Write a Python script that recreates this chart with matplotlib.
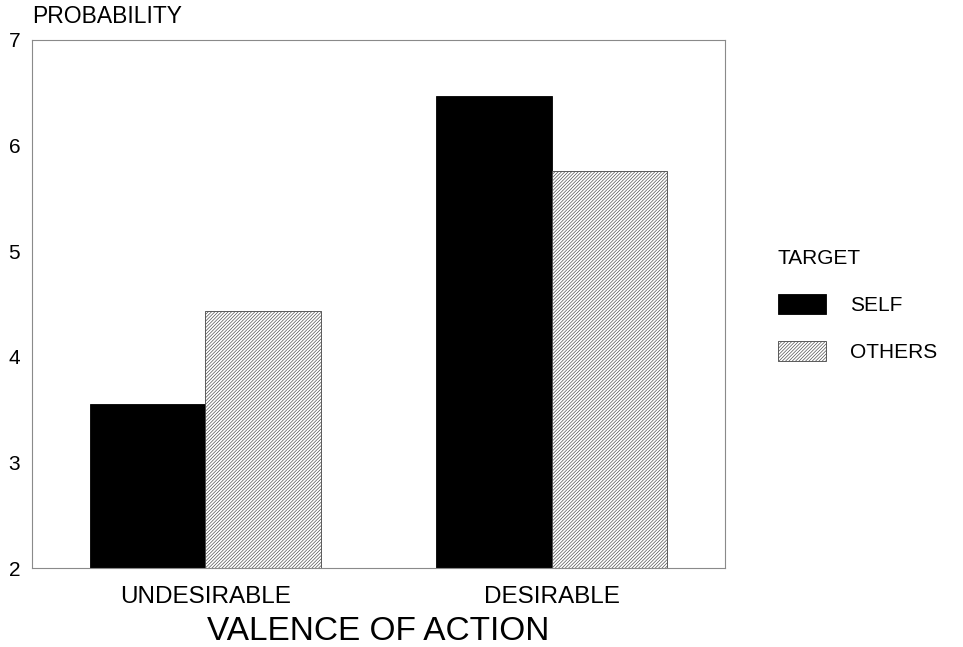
import matplotlib
matplotlib.use("Agg")
import matplotlib.pyplot as plt
import numpy as np

plt.rcParams['font.family'] = ['Liberation Sans', 'DejaVu Sans']
plt.rcParams['hatch.linewidth'] = 0.45
plt.rcParams['hatch.color'] = '#666666'

categories = ["UNDESIRABLE", "DESIRABLE"]
series_names = ["SELF", "OTHERS"]
self_vals = [3.55, 6.47]
others_vals = [4.43, 5.76]
yticks = [2, 3, 4, 5, 6, 7]

fig = plt.figure(figsize=(9.63, 6.47), dpi=100)
ax = fig.add_axes([0.0332, 0.1221, 0.7197, 0.8161])

x = np.arange(len(categories))
w = 1 / 3
ax.bar(x - w / 2, self_vals, width=w, bottom=0, color='black', edgecolor='black',
       linewidth=0.6, label=series_names[0])
ax.bar(x + w / 2, others_vals, width=w, bottom=0, color='white', edgecolor='#444444',
       hatch='//////////', linewidth=0.6, label=series_names[1])

ax.set_ylim(2, 7)
ax.set_xlim(-0.5, 1.5)
ax.set_yticks(yticks)
ax.set_yticklabels([str(t) for t in yticks], fontsize=15)
ax.set_xticks(x)
ax.set_xticklabels(categories, fontsize=17.5)
ax.tick_params(axis='both', length=0)
ax.tick_params(axis='y', pad=8.5)
ax.tick_params(axis='x', pad=13)
for s in ax.spines.values():
    s.set_color('#8a8a8a')
    s.set_linewidth(0.8)

ax.set_xlabel("VALENCE OF ACTION", fontsize=24, labelpad=5.5)
fig.text(0.033, 0.974, "PROBABILITY", fontsize=16.5, ha='left', va='center')

leg = ax.legend(loc='upper left', bbox_to_anchor=(0.797, 0.631), bbox_transform=fig.transFigure,
                title="TARGET", title_fontsize=15, fontsize=15, frameon=False,
                handlelength=2.3, handleheight=1.1, handletextpad=1.15, labelspacing=1.25,
                alignment='left', borderpad=0)

fig.savefig("out.png", dpi=100)
